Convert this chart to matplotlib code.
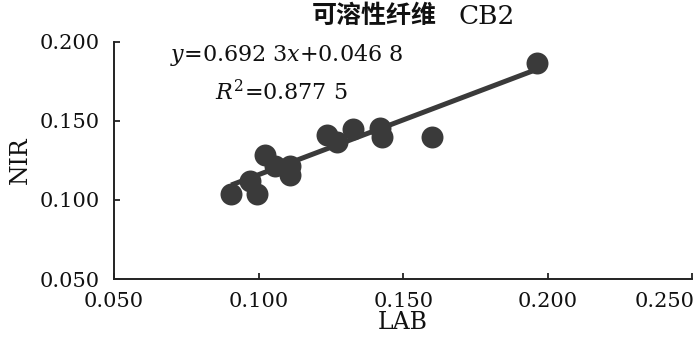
import matplotlib
matplotlib.use("Agg")
import matplotlib.pyplot as plt
import matplotlib.transforms as mtransforms
import numpy as np

lab = [0.0905, 0.0971, 0.0995, 0.1022, 0.1057, 0.1109, 0.1109, 0.1237, 0.1272,
       0.1327, 0.1420, 0.1427, 0.1600, 0.1964]
nir = [0.1040, 0.1123, 0.1040, 0.1282, 0.1218, 0.1218, 0.1161, 0.1409, 0.1364,
       0.1447, 0.1453, 0.1396, 0.1396, 0.1866]
slope = 0.6923
intercept = 0.0468
xticks = [0.050, 0.100, 0.150, 0.200, 0.250]
yticks = [0.050, 0.100, 0.150, 0.200]
title_cn = "可溶性纤维"
title_en = "CB2"
eq_text = r"$y$=0.692 3$x$+0.046 8"
r2_text = r"$R^2$=0.877 5"

plt.rcParams['mathtext.fontset'] = 'dejavuserif'
plt.rcParams['font.family'] = ['DejaVu Serif', 'Noto Sans CJK SC']

col = '#3a3a3a'
txt = '#111111'
fig = plt.figure(figsize=(7, 3.55), dpi=100)
ax = fig.add_axes([0.163, 0.214, 0.826, 0.668])

ax.scatter(lab, nir, s=250, color=col, zorder=3, linewidths=0)
xl = np.array([min(lab), max(lab)])
ax.plot(xl, slope * xl + intercept, color=col, lw=3.6, zorder=2, solid_capstyle='butt')

ax.set_xlim(0.05, 0.25)
ax.set_ylim(0.05, 0.20)
ax.set_xticks(xticks)
ax.set_yticks(yticks)
ax.set_xticklabels([f"{v:.3f}" for v in xticks])
ax.set_yticklabels([f"{v:.3f}" for v in yticks])
ax.tick_params(direction='in', length=4, width=1.2, labelsize=15, colors=txt)
ax.tick_params(axis='x', pad=9)
ax.tick_params(axis='y', pad=10)
lbls = ax.get_xticklabels()
lbls[-1].set_horizontalalignment('right')
lbls[-1].set_transform(lbls[-1].get_transform() +
                       mtransforms.ScaledTranslation(2 / 100, 0, fig.dpi_scale_trans))
for s in ['top', 'right']:
    ax.spines[s].set_visible(False)
for s in ['left', 'bottom']:
    ax.spines[s].set_linewidth(1.4)
    ax.spines[s].set_color('#222222')

ax.set_xlabel("LAB", fontsize=17, labelpad=0, color=txt)
ax.set_ylabel("NIR", fontsize=17, labelpad=6, color=txt)

fig.text(312 / 700, 1 - 16 / 355, title_cn, ha='left', va='center', fontsize=18,
         family='Noto Sans CJK SC', fontweight='bold', color=txt)
fig.text(458 / 700, 1 - 17 / 355, title_en, ha='left', va='center', fontsize=19,
         family='DejaVu Serif', color=txt)
fig.text(170 / 700, 1 - 55 / 355, eq_text, ha='left', va='center', fontsize=16, color=txt)
fig.text(215 / 700, 1 - 93 / 355, r2_text, ha='left', va='center', fontsize=16, color=txt)

fig.savefig("out.png", dpi=100)
